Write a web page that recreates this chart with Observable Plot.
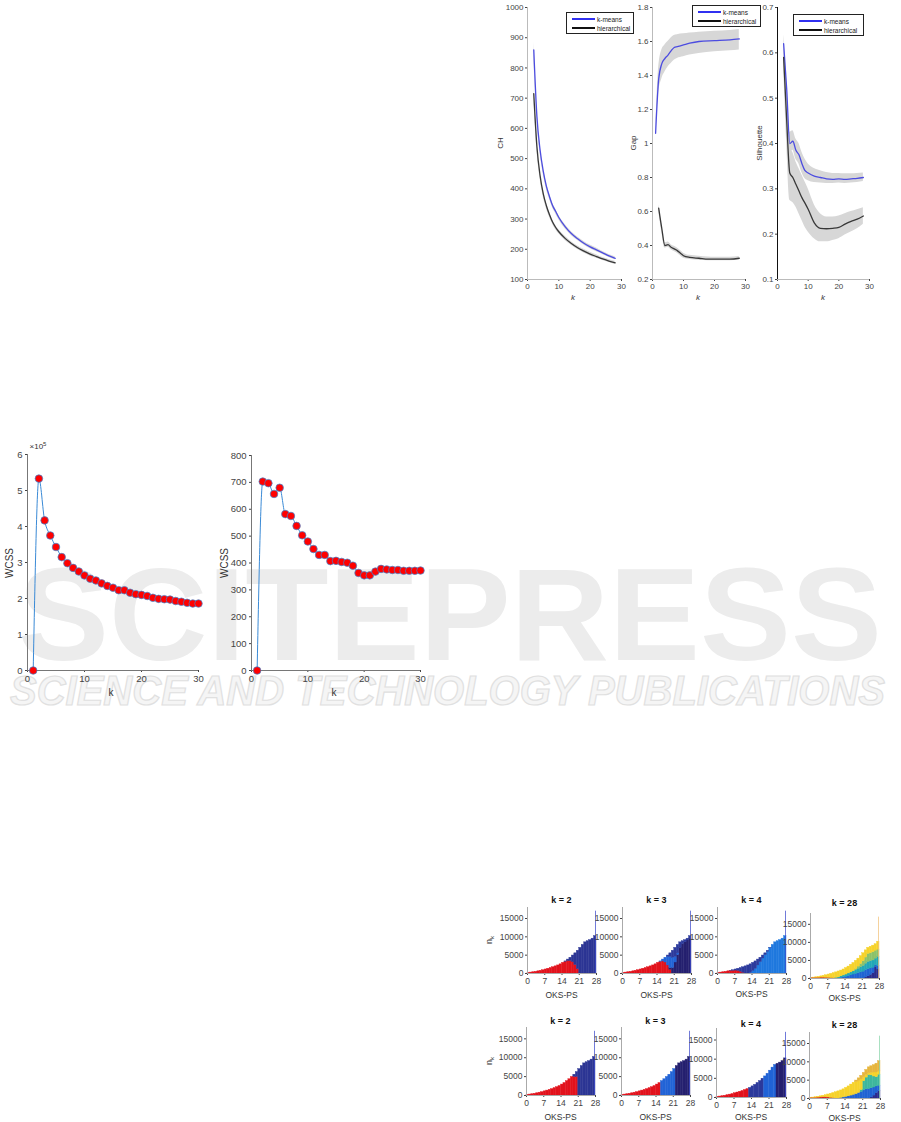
<!DOCTYPE html>
<html><head><meta charset="utf-8">
<script src="https://cdn.jsdelivr.net/npm/d3@7"></script>
<script src="https://cdn.jsdelivr.net/npm/@observablehq/plot@0.6"></script>
<style>
body{margin:0;background:#fff;}
#root{position:relative;width:901px;height:1122px;overflow:hidden;font-family:"Liberation Sans",Arial,sans-serif;}
.lbl{position:absolute;white-space:nowrap;line-height:1;}
.leg{position:absolute;border:1px solid #222;background:#fff;box-sizing:border-box;font-size:6.5px;color:#222;}
.leg .row{position:absolute;left:5px;height:8px;display:flex;align-items:center;}
.leg .ln{display:inline-block;width:23px;height:1.6px;margin-right:2px;}
</style></head>
<body><div id="root"></div>
<script>
// ---------------- DATA ----------------
// Top-right panels (k = number of clusters)
const chK = [2,3,4,5,6,7,8,9,10,12,14,16,18,20,22,24,26,28];
const chKm   = [860,640,530,460,410,375,345,325,305,275,252,235,220,208,198,188,178,170];
const chKmLo = [835,625,518,449,400,366,337,317,298,268,246,229,214,202,192,183,173,165];
const chKmHi = [885,655,542,471,420,384,353,333,312,282,258,241,226,214,204,193,183,175];
const chHc   = [715,540,445,385,345,315,290,272,258,236,219,205,194,184,176,168,161,155];
const chHcLo = [700,528,434,375,336,307,283,265,251,229,213,199,188,178,170,163,156,150];
const chHcHi = [730,552,456,395,354,323,297,279,265,243,225,211,200,190,182,173,166,160];
const chTicks = [100,200,300,400,500,600,700,800,900,1000];

const gapKmK = [1,2,3,4,5,6,7,8,10,12,15,20,25,28];
const gapKm   = [1.06,1.38,1.47,1.50,1.52,1.545,1.565,1.57,1.58,1.59,1.60,1.605,1.61,1.615];
const gapKmLo = [1.06,1.30,1.38,1.42,1.45,1.47,1.49,1.50,1.51,1.52,1.53,1.54,1.545,1.55];
const gapKmHi = [1.06,1.45,1.55,1.58,1.60,1.62,1.635,1.64,1.645,1.65,1.655,1.66,1.665,1.67];
const gapHcK = [2,3,4,5,6,7,8,9,10,12,15,18,20,25,28];
const gapHc   = [0.62,0.50,0.40,0.405,0.39,0.38,0.37,0.355,0.34,0.33,0.325,0.32,0.32,0.32,0.325];
const gapHcLo = [0.60,0.48,0.385,0.39,0.375,0.365,0.355,0.34,0.325,0.318,0.313,0.31,0.31,0.31,0.315];
const gapHcHi = [0.64,0.52,0.415,0.42,0.405,0.395,0.385,0.37,0.355,0.342,0.337,0.332,0.331,0.331,0.335];
const gapTicks = [0.2,0.4,0.6,0.8,1,1.2,1.4,1.6,1.8];

const silK = [2,3,4,5,6,7,8,9,10,12,14,16,18,20,22,24,26,28];
const silKm   = [0.62,0.52,0.40,0.405,0.385,0.375,0.355,0.34,0.335,0.328,0.325,0.322,0.321,0.322,0.321,0.322,0.323,0.325];
const silKmLo = [0.60,0.50,0.375,0.385,0.365,0.355,0.335,0.322,0.318,0.314,0.313,0.312,0.312,0.313,0.312,0.313,0.314,0.316];
const silKmHi = [0.64,0.54,0.425,0.428,0.41,0.40,0.38,0.365,0.355,0.345,0.340,0.336,0.334,0.334,0.333,0.333,0.334,0.335];
const silHc   = [0.59,0.45,0.335,0.325,0.31,0.295,0.28,0.268,0.255,0.225,0.213,0.212,0.213,0.215,0.222,0.228,0.233,0.24];
const silHcLo = [0.57,0.40,0.275,0.27,0.26,0.245,0.23,0.215,0.205,0.19,0.183,0.183,0.186,0.19,0.198,0.205,0.212,0.222];
const silHcHi = [0.61,0.50,0.39,0.38,0.36,0.345,0.33,0.315,0.300,0.265,0.245,0.238,0.238,0.240,0.245,0.250,0.254,0.258];
const silTicks = [0.1,0.2,0.3,0.4,0.5,0.6,0.7];
const kTicks30 = [0,10,20,30];

// WCSS elbow plots
const wcssK = [1,2,3,4,5,6,7,8,9,10,11,12,13,14,15,16,17,18,19,20,21,22,23,24,25,26,27,28,29,30];
const wcss1 = [0,5.33,4.17,3.75,3.43,3.15,2.98,2.85,2.75,2.64,2.55,2.50,2.42,2.35,2.30,2.23,2.23,2.16,2.12,2.10,2.07,2.02,1.99,1.98,1.97,1.93,1.91,1.88,1.86,1.86];
const wcss2 = [0,703,697,657,680,582,575,538,503,480,452,430,430,407,408,404,401,390,363,354,354,368,378,376,374,374,371,371,371,372];
const wcss1Ticks = [0,1,2,3,4,5,6];
const wcss2Ticks = [0,100,200,300,400,500,600,700,800];

// Histograms (OKS-PS bins 0..27, stacked by cluster)
const histXTicks = [0,7,14,21,28];
const histYTicks = [0,5000,10000,15000];
const spikeBin = 28, spikeValue = 17000;
const r1k2_red  = [150,250,350,450,600,750,900,1100,1300,1500,1700,1950,2200,2500,2900,3200,3400,3400,3100,2300,1200,0,0,0,0,0,0,0];
const r1k2_blue = [0,0,0,0,0,0,0,0,0,0,0,0,0,0,0,100,400,900,1800,3200,5000,7000,7800,8500,8800,9100,9500,10200];
const r1k3_red    = [150,250,350,450,600,750,900,1100,1300,1500,1700,1950,2200,2500,2900,3200,3300,3000,2200,1000,0,0,0,0,0,0,0,0];
const r1k3_navy   = [0,0,0,0,0,0,0,0,0,0,0,0,0,0,0,0,0,0,0,500,1500,3000,5000,7000,8000,8500,9000,9500];
const r1k3_bright = [0,0,0,0,0,0,0,0,0,0,0,0,0,0,0,100,500,1300,2400,3000,2800,1500,500,0,0,0,0,0];
const r1k3_mid    = [0,0,0,0,0,0,0,0,0,0,0,0,0,0,0,0,0,0,300,1000,1900,2500,2300,1500,800,600,500,700];
const r1k4_red   = [150,250,350,450,600,700,750,800,700,500,200,0,0,0,0,0,0,0,0,0,0,0,0,0,0,0,0,0];
const r1k4_light = [0,0,0,0,0,0,0,0,0,0,0,0,0,200,700,1300,2200,3100,4100,5000,5900,6900,7800,8500,8800,9100,9500,10200];
const r1k4_dark  = [0,0,0,0,0,50,150,300,600,1000,1500,1950,2200,2300,2200,2000,1600,1200,800,500,300,100,0,0,0,0,0,0];
const r1k28_red    = [100,150,200,220,250,250,220,180,120,60,0,0,0,0,0,0,0,0,0,0,0,0,0,0,0,0,0,0];
const r1k28_navy   = [0,0,0,0,0,0,0,0,0,0,0,0,0,0,0,0,0,0,0,0,0,0,300,600,1000,1500,3200,2500];
const r1k28_blue   = [0,0,0,0,0,0,0,0,0,0,0,0,200,350,500,700,900,1100,1300,1500,1700,1900,2000,2000,1800,1500,500,1000];
const r1k28_teal   = [0,0,0,0,0,0,0,0,0,0,200,300,400,500,600,700,800,900,1000,1200,1400,1600,1800,2000,2000,2000,1800,2500];
const r1k28_green  = [0,0,0,0,0,0,0,0,0,0,0,0,0,0,0,0,0,0,300,600,900,1300,1700,2200,2200,2300,2200,2000];
const r1k28_yellow = [50,100,150,230,350,500,680,920,1180,1440,1500,1650,1600,1650,1800,1900,2100,2300,2300,2200,2200,2200,2000,1700,1800,1800,1800,2200];
const r2k2_red  = [150,250,350,450,600,750,900,1100,1300,1500,1700,1950,2200,2500,2900,3300,3800,4300,4900,4900,4900,0,0,0,0,0,0,0];
const r2k2_blue = [0,0,0,0,0,0,0,0,0,0,0,0,0,0,0,0,0,0,0,600,1300,7000,7800,8500,8800,9100,9500,10200];
const r2k3_red    = [150,250,350,450,600,750,900,1100,1300,1500,1700,1950,2200,2500,2900,3300,0,0,0,0,0,0,0,0,0,0,0,0];
const r2k3_bright = [0,0,0,0,0,0,0,0,0,0,0,0,0,0,0,0,3800,4300,4900,5500,6200,7000,0,0,0,0,0,0];
const r2k3_navy   = [0,0,0,0,0,0,0,0,0,0,0,0,0,0,0,0,0,0,0,0,0,0,7800,8500,8800,9100,9500,10200];
const r2k4_red   = [150,250,350,450,600,750,900,1100,1300,1500,1700,1950,2200,0,0,0,0,0,0,0,0,0,0,0,0,0,0,0];
const r2k4_dark  = [0,0,0,0,0,0,0,0,0,0,0,0,0,2500,2900,3300,3800,4300,4900,0,0,0,0,0,0,0,0,0];
const r2k4_light = [0,0,0,0,0,0,0,0,0,0,0,0,0,0,0,0,0,0,0,5500,6200,7000,7800,8500,0,0,0,0];
const r2k4_navy  = [0,0,0,0,0,0,0,0,0,0,0,0,0,0,0,0,0,0,0,0,0,0,0,0,8800,9100,9500,10200];
const r2k28_red    = [100,150,200,250,300,350,350,300,200,100,0,0,0,0,0,0,0,0,0,0,0,0,0,0,0,0,0,0];
const r2k28_navy   = [0,0,0,0,0,0,0,0,0,0,0,0,0,0,0,0,0,0,0,0,0,0,0,0,300,800,1500,2000];
const r2k28_blue   = [0,0,0,0,0,0,0,0,0,0,0,0,150,300,450,600,800,1000,1200,1500,1800,2200,2500,2600,2500,2200,1800,1500];
const r2k28_teal   = [0,0,0,0,0,0,0,0,0,0,0,0,0,0,0,0,0,0,0,0,500,2500,3200,3800,3500,3000,2500,3000];
const r2k28_yellow = [50,100,150,200,300,400,550,800,1100,1400,1700,1950,2050,2200,2450,2700,3000,3300,3300,3300,2900,1100,700,500,700,1100,1300,900];
const r2k28_gold   = [0,0,0,0,0,0,0,0,0,0,0,0,0,0,0,0,0,0,400,700,1000,1200,1400,1600,1800,2000,2400,2800];

// ---------------- HELPERS ----------------
const root = document.getElementById('root');
const C = {red:'#e2121c', k2blue:'#2c3594', navy:'#25206f', mid:'#2c3a9c', bright:'#2163d6', light:'#1f78de',
  yellow:'#f6d22a', gold:'#e6b53c', green:'#8cc26a', teal:'#22a8b6', teal2:'#3db79c', blue28:'#1f63d3', navy28:'#2b2b8c', red28:'#d8261d'};

function addLabel(html, x, y, o = {}) {
  const d = document.createElement('div');
  d.className = 'lbl'; d.innerHTML = html;
  d.style.left = x + 'px'; d.style.top = y + 'px';
  d.style.fontSize = (o.size || 9) + 'px';
  d.style.color = o.color || '#333';
  d.style.transform = `translate(-50%,-50%) rotate(${o.rot || 0}deg)`;
  if (o.italic) d.style.fontStyle = 'italic';
  if (o.bold) d.style.fontWeight = 'bold';
  root.appendChild(d);
}
function framed(opts, f, pad, fontSize) {
  const svg = Plot.plot({
    ...opts,
    width: f.x1 - f.x0 + pad.l + pad.r,
    height: f.y1 - f.y0 + pad.t + pad.b,
    marginLeft: pad.l, marginRight: pad.r, marginTop: pad.t, marginBottom: pad.b,
    style: {fontFamily: '"Liberation Sans",Arial,sans-serif', fontSize: fontSize + 'px', color: '#444', background: 'transparent', overflow: 'visible'}
  });
  const d = document.createElement('div');
  d.style.cssText = `position:absolute;left:${f.x0 - pad.l}px;top:${f.y0 - pad.t}px;`;
  d.appendChild(svg); root.appendChild(d);
}
function rows(ks, m, lo, hi) { return ks.map((k, i) => ({k, m: m[i], lo: lo ? lo[i] : null, hi: hi ? hi[i] : null})); }
function legend(x, y, w, h) {
  const d = document.createElement('div');
  d.className = 'leg';
  d.style.cssText += `left:${x}px;top:${y}px;width:${w}px;height:${h}px;`;
  d.innerHTML = `<div class="row" style="top:2px"><span class="ln" style="background:#3030f0"></span>k-means</div>
  <div class="row" style="top:11px"><span class="ln" style="background:#111"></span>hierarchical</div>`;
  root.appendChild(d);
}
const fmt1 = d => String(+d.toFixed(2));

// ---------------- WATERMARK ----------------
root.insertAdjacentHTML('beforeend', `<svg width="901" height="1122" style="position:absolute;left:0;top:0">
<text x="18" y="660" textLength="864" lengthAdjust="spacingAndGlyphs" font-family="Liberation Sans" font-weight="bold" font-size="132" fill="#ececec">SCITEPRESS</text>
<text x="10" y="705" textLength="875" lengthAdjust="spacingAndGlyphs" font-family="Liberation Sans" font-weight="bold" font-style="italic" font-size="42" fill="#f5f5f5" stroke="#e0e0e0" stroke-width="1.2">SCIENCE AND TECHNOLOGY PUBLICATIONS</text>
</svg>`);

// ---------------- TOP-RIGHT PANELS ----------------
function validPanel(f, yDomain, yTicks, series, yAxisColor) {
  const marks = [];
  series.forEach(s => marks.push(Plot.areaY(s.data, {x: 'k', y1: 'lo', y2: 'hi', fill: '#d7d7d7', curve: 'monotone-x'})));
  series.forEach(s => marks.push(Plot.line(s.data, {x: 'k', y: 'm', stroke: s.color, strokeWidth: 1.3, curve: 'monotone-x'})));
  marks.push(Plot.ruleY([yDomain[0]], {stroke: '#bbb'}));
  marks.push(Plot.ruleX([0], {stroke: yAxisColor}));
  framed({
    x: {domain: [0, 30], ticks: kTicks30, tickSize: 2, tickPadding: 2, label: null},
    y: {domain: yDomain, ticks: yTicks, tickSize: 2, tickPadding: 2, label: null, tickFormat: fmt1},
    marks
  }, f, {l: 40, r: 6, t: 6, b: 16}, 8);
}
const KM = '#4c4ce0', HC = '#383838';
validPanel({x0: 527, x1: 621, y0: 7, y1: 279}, [100, 1000], chTicks,
  [{data: rows(chK, chKm, chKmLo, chKmHi), color: KM}, {data: rows(chK, chHc, chHcLo, chHcHi), color: HC}], '#bbb');
validPanel({x0: 652, x1: 745, y0: 7, y1: 279}, [0.2, 1.8], gapTicks,
  [{data: rows(gapKmK, gapKm, gapKmLo, gapKmHi), color: KM}, {data: rows(gapHcK, gapHc, gapHcLo, gapHcHi), color: HC}], '#bbb');
validPanel({x0: 777, x1: 869, y0: 7, y1: 279}, [0.1, 0.7], silTicks,
  [{data: rows(silK, silKm, silKmLo, silKmHi), color: KM}, {data: rows(silK, silHc, silHcLo, silHcHi), color: HC}], '#111');
addLabel('CH', 501, 143, {rot: -90, size: 8});
addLabel('Gap', 634, 143, {rot: -90, size: 8});
addLabel('Silhouette', 760, 143, {rot: -90, size: 8});
['573', '698', '823'].forEach(x => addLabel('k', +x, 298, {italic: true, size: 8}));
legend(566, 12, 68, 22);
legend(692, 5, 69, 22);
legend(793, 14, 71, 22);

// ---------------- WCSS PANELS ----------------
function wcssPanel(f, vals, yDomain, yTicks) {
  const data = wcssK.map((k, i) => ({k, v: vals[i]}));
  framed({
    x: {domain: [0, 30], ticks: kTicks30, tickSize: 2, tickPadding: 3, label: null},
    y: {domain: yDomain, ticks: yTicks, tickSize: 2, tickPadding: 3, label: null, tickFormat: d => String(d)},
    marks: [
      Plot.ruleX([0], {stroke: '#777'}), Plot.ruleY([0], {stroke: '#777'}),
      Plot.line(data, {x: 'k', y: 'v', stroke: '#3a8ad6', strokeWidth: 1, curve: 'monotone-x'}),
      Plot.dot(data, {x: 'k', y: 'v', r: 3.8, fill: '#ff0000', stroke: '#3a8ad6', strokeWidth: 0.7})
    ]
  }, f, {l: 36, r: 8, t: 8, b: 18}, 9.5);
}
wcssPanel({x0: 27, x1: 198, y0: 454, y1: 670}, wcss1, [0, 6], wcss1Ticks);
wcssPanel({x0: 251, x1: 420, y0: 455, y1: 670}, wcss2, [0, 800], wcss2Ticks);
addLabel('WCSS', 10, 563, {rot: -90, size: 10});
addLabel('WCSS', 225, 563, {rot: -90, size: 10});
addLabel('k', 111, 693, {size: 10});
addLabel('k', 334, 693, {size: 10});
addLabel('&times;10<sup style="font-size:6px">5</sup>', 38, 446, {size: 8});

// ---------------- HISTOGRAMS ----------------
function stackRows(layers) {
  const out = []; const base = new Array(28).fill(0);
  layers.forEach(([color, vals]) => vals.forEach((v, i) => {
    if (v > 0) out.push({x1: i, x2: i + 1, y1: base[i], y2: base[i] + v, fill: color});
    base[i] += v;
  }));
  return out;
}
function hist(f, layers, spikeColor, title, titleY, labelY, showNk) {
  const data = stackRows(layers);
  framed({
    x: {domain: [0, 28], ticks: histXTicks, tickSize: 2, tickPadding: 2, label: null, tickFormat: d => String(d)},
    y: {domain: [0, 18000], ticks: histYTicks, tickSize: 2, tickPadding: 2, label: null, tickFormat: d => String(d)},
    color: {type: 'identity'},
    marks: [
      Plot.rect(data, {x1: 'x1', x2: 'x2', y1: 'y1', y2: 'y2', fill: 'fill', stroke: 'fill', strokeWidth: 0.4}),
      Plot.rect([{b: spikeBin, v: spikeValue}], {x1: d => d.b - 0.3, x2: d => d.b, y1: d => 0, y2: 'v', fill: spikeColor}),
      Plot.ruleX([0], {stroke: '#aaa'}), Plot.ruleY([0], {stroke: '#aaa'})
    ]
  }, f, {l: 32, r: 4, t: 4, b: 14}, 8.5);
  const cx = (f.x0 + f.x1) / 2;
  addLabel(title, cx, titleY, {bold: true, size: 9, color: '#111'});
  addLabel('OKS-PS', cx, labelY, {size: 8.5, color: '#333'});
  if (showNk) addLabel('n<sub style="font-size:6px">k</sub>', 490, (f.y0 + f.y1) / 2, {rot: -90, size: 9});
}
hist({x0: 527, x1: 596, y0: 907, y1: 973}, [[C.red, r1k2_red], [C.k2blue, r1k2_blue]], '#3f4ccc', 'k = 2', 900, 995, true);
hist({x0: 622, x1: 691, y0: 907, y1: 973}, [[C.red, r1k3_red], [C.navy, r1k3_navy], [C.bright, r1k3_bright], [C.mid, r1k3_mid]], '#3f4ccc', 'k = 3', 900, 995, false);
hist({x0: 717, x1: 786, y0: 907, y1: 973}, [[C.red, r1k4_red], [C.light, r1k4_light], [C.mid, r1k4_dark]], '#3f4ccc', 'k = 4', 900, 994, false);
hist({x0: 810, x1: 879, y0: 913, y1: 978}, [[C.red28, r1k28_red], [C.navy28, r1k28_navy], [C.blue28, r1k28_blue], [C.teal, r1k28_teal], [C.green, r1k28_green], [C.yellow, r1k28_yellow]], '#f2c27a', 'k = 28', 903, 998, false);
hist({x0: 526, x1: 595, y0: 1027, y1: 1095}, [[C.red, r2k2_red], [C.k2blue, r2k2_blue]], '#3f4ccc', 'k = 2', 1021, 1117, true);
hist({x0: 621, x1: 690, y0: 1027, y1: 1095}, [[C.red, r2k3_red], [C.bright, r2k3_bright], [C.navy, r2k3_navy]], '#3f4ccc', 'k = 3', 1021, 1117, false);
hist({x0: 716, x1: 786, y0: 1028, y1: 1097}, [[C.red, r2k4_red], [C.mid, r2k4_dark], [C.bright, r2k4_light], [C.navy, r2k4_navy]], '#3f4ccc', 'k = 4', 1024, 1117, false);
hist({x0: 809, x1: 880, y0: 1032, y1: 1098}, [[C.red28, r2k28_red], [C.navy28, r2k28_navy], [C.blue28, r2k28_blue], [C.teal2, r2k28_teal], [C.yellow, r2k28_yellow], [C.gold, r2k28_gold]], '#8fd6ae', 'k = 28', 1025, 1118, false);
</script>
</body></html>
